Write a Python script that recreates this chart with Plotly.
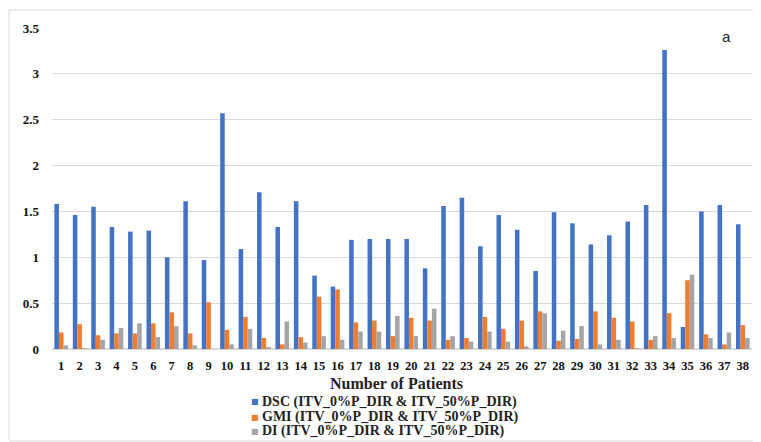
import plotly.graph_objects as go

patients = [str(i) for i in range(1, 39)]
dsc = [1.58, 1.46, 1.55, 1.33, 1.28, 1.29, 1.00, 1.61, 0.97, 2.57,
       1.09, 1.71, 1.33, 1.61, 0.80, 0.68, 1.19, 1.20, 1.20, 1.20,
       0.88, 1.56, 1.65, 1.12, 1.46, 1.30, 0.85, 1.49, 1.37, 1.14,
       1.24, 1.39, 1.57, 3.26, 0.24, 1.50, 1.57, 1.36]
gmi = [0.18, 0.27, 0.15, 0.17, 0.17, 0.28, 0.40, 0.17, 0.51, 0.21,
       0.35, 0.12, 0.05, 0.13, 0.57, 0.65, 0.29, 0.31, 0.14, 0.34,
       0.31, 0.10, 0.12, 0.35, 0.22, 0.31, 0.41, 0.09, 0.11, 0.41,
       0.34, 0.30, 0.10, 0.39, 0.75, 0.16, 0.05, 0.26]
di = [0.04, 0.01, 0.10, 0.23, 0.28, 0.13, 0.25, 0.04, 0.00, 0.05,
      0.22, 0.02, 0.30, 0.07, 0.14, 0.10, 0.19, 0.19, 0.36, 0.14,
      0.44, 0.14, 0.08, 0.19, 0.08, 0.03, 0.39, 0.20, 0.25, 0.05,
      0.10, 0.01, 0.14, 0.12, 0.81, 0.12, 0.18, 0.12]
series_names = ["DSC (ITV_0%P_DIR & ITV_50%P_DIR)",
                "GMI (ITV_0%P_DIR & ITV_50%P_DIR)",
                "DI (ITV_0%P_DIR & ITV_50%P_DIR)"]
colors = ["#4472C4", "#ED7D31", "#A5A5A5"]
y_ticks = [0, 0.5, 1, 1.5, 2, 2.5, 3, 3.5]
y_labels = ["0", "0.5", "1", "1.5", "2", "2.5", "3", "3.5"]

serif = "Liberation Serif, Times New Roman, serif"

fig = go.Figure()
for name, vals, col in zip(series_names, [dsc, gmi, di], colors):
    fig.add_trace(go.Bar(x=patients, y=vals, name=name, marker_color=col,
                         marker_line_width=0, showlegend=False))

# page has an 8px body margin: figure is drawn from (8, 8)
OFF = 8
W, H = 761 - OFF, 442 - OFF
L, T = 52 - OFF, 28 - OFF
R = W - (752 - OFF)
B = H - (349 - OFF)
pw, ph = W - L - R, H - T - B

def px_x(x):
    return (x - OFF - L) / pw

def px_y(y):
    return (H - B - (y - OFF)) / ph

annotations = [
    dict(text="<b>Number of Patients</b>", xref="paper", yref="paper",
         x=px_x(396), y=px_y(384), xanchor="center", yanchor="middle",
         showarrow=False, font=dict(family=serif, size=16, color="#222")),
    dict(text="a", xref="paper", yref="paper",
         x=px_x(726), y=px_y(36), xanchor="center", yanchor="middle",
         showarrow=False,
         font=dict(family="Liberation Sans, Arial, sans-serif", size=15,
                   color="#222")),
]
legend_y = [402, 417, 431]
for name, col, ly in zip(series_names, colors, legend_y):
    annotations.append(dict(text="■", xref="paper", yref="paper",
                            x=px_x(255), y=px_y(ly), xanchor="center",
                            yanchor="middle", showarrow=False,
                            font=dict(family="DejaVu Sans", size=8, color=col)))
    annotations.append(dict(text="<b>" + name + "</b>", xref="paper",
                            yref="paper", x=px_x(260), y=px_y(ly),
                            xanchor="left", yanchor="middle", showarrow=False,
                            font=dict(family=serif, size=14, color="#222")))

fig.update_layout(
    width=W, height=H,
    margin=dict(l=L, r=R, t=T, b=B, autoexpand=False),
    paper_bgcolor="white", plot_bgcolor="white",
    barmode="group", bargap=0.26, bargroupgap=0,
    showlegend=False,
    xaxis=dict(type="category", showgrid=False, showline=False, ticks="",
               tickfont=dict(family=serif, size=12.5, color="#111"),
               ticklabelstandoff=7),
    yaxis=dict(range=[0, 3.5], tickvals=y_ticks, ticktext=y_labels,
               showgrid=True, gridcolor="#D9D9D9", gridwidth=1,
               zeroline=True, zerolinecolor="#D9D9D9", showline=False,
               tickfont=dict(family=serif, size=13, color="#111"),
               ticklabelstandoff=12),
    shapes=[dict(type="rect", xref="paper", yref="paper",
                 x0=px_x(9), x1=px_x(770), y0=px_y(441), y1=px_y(10),
                 line=dict(color="#D9D9D9", width=1), layer="below")],
    annotations=annotations,
)
fig.update_xaxes(tickfont_weight="bold")
fig.update_yaxes(tickfont_weight="bold")

fig.write_html("out.html")
